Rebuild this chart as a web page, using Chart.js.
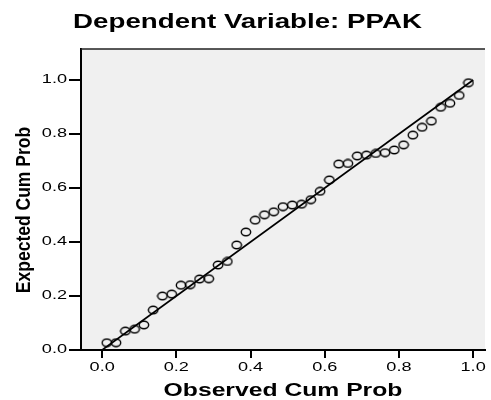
<!DOCTYPE html>
<html>
<head>
<meta charset="utf-8">
<script src="https://cdn.jsdelivr.net/npm/chart.js@4/dist/chart.umd.min.js"></script>
<style>
  html, body { margin: 0; padding: 0; background: #fff; }
  #wrap { width: 491px; height: 400px; }
</style>
</head>
<body>
<div id="wrap"><canvas id="chart_pp"></canvas></div>
<script>
var observed = [0.0125, 0.0375, 0.0625, 0.0875, 0.1125, 0.1375, 0.1625, 0.1875, 0.2125, 0.2375,
                0.2625, 0.2875, 0.3125, 0.3375, 0.3625, 0.3875, 0.4125, 0.4375, 0.4625, 0.4875,
                0.5125, 0.5375, 0.5625, 0.5875, 0.6125, 0.6375, 0.6625, 0.6875, 0.7125, 0.7375,
                0.7625, 0.7875, 0.8125, 0.8375, 0.8625, 0.8875, 0.9125, 0.9375, 0.9625, 0.9875];
var expected = [0.027, 0.027, 0.070, 0.077, 0.093, 0.148, 0.200, 0.207, 0.240, 0.242,
                0.263, 0.264, 0.315, 0.328, 0.389, 0.437, 0.481, 0.501, 0.512, 0.531,
                0.537, 0.540, 0.557, 0.588, 0.630, 0.689, 0.691, 0.719, 0.722, 0.728,
                0.731, 0.741, 0.760, 0.796, 0.825, 0.848, 0.899, 0.914, 0.943, 0.990];
var diag_line = [0, 1];
var tick_vals = [0.0, 0.2, 0.4, 0.6, 0.8, 1.0];
var tick_labels = ['0.0', '0.2', '0.4', '0.6', '0.8', '1.0'];

var title_text = 'Dependent Variable: PPAK';
var x_title = 'Observed Cum Prob';
var y_title = 'Expected Cum Prob';

var plot_bg = '#f0f0f0';
var ink = '#000000';
var fam = '"Liberation Sans", Arial, sans-serif';
var chart;

// open ellipse marker (the source image is a bit stretched sideways)
function make_marker() {
  var c = document.createElement('canvas');
  c.width = 12;
  c.height = 10;
  var g = c.getContext('2d');
  g.strokeStyle = ink;
  g.lineWidth = 1.4;
  g.beginPath();
  g.ellipse(6, 5, 4.7, 3.7, 0, 0, Math.PI * 2);
  g.stroke();
  return c;
}

// text drawn wider than the font, like the reference
function wide_text(ctx, txt, x, y, sx, align, base) {
  ctx.save();
  ctx.translate(x, y);
  ctx.scale(sx, 1);
  ctx.textAlign = align;
  ctx.textBaseline = base;
  ctx.fillText(txt, 0, 0);
  ctx.restore();
}

var frame_plugin = {
  id: 'frame',
  beforeDraw: function (ch) {
    var a = ch.chartArea;
    var ctx = ch.ctx;
    ctx.save();
    ctx.fillStyle = '#ffffff';
    ctx.fillRect(0, 0, ch.width, ch.height);
    ctx.fillStyle = plot_bg;
    ctx.fillRect(a.left, a.top, a.right - a.left, a.bottom - a.top);
    ctx.restore();
  },
  afterDraw: function (ch) {
    var a = ch.chartArea;
    var ctx = ch.ctx;
    var xs = ch.scales.x;
    var ys = ch.scales.y;
    ctx.save();
    ctx.strokeStyle = '#222';
    ctx.lineWidth = 1.5;
    ctx.beginPath();
    ctx.moveTo(a.left, a.top);
    ctx.lineTo(a.right, a.top);
    ctx.stroke();

    ctx.fillStyle = ink;
    ctx.font = '12.5px ' + fam;
    for (var i = 0; i < tick_vals.length; i++) {
      wide_text(ctx, tick_labels[i], xs.getPixelForValue(tick_vals[i]), a.bottom + 11, 1.45, 'center', 'top');
      wide_text(ctx, tick_labels[i], a.left - 14, ys.getPixelForValue(tick_vals[i]), 1.45, 'right', 'middle');
    }

    ctx.font = 'bold 19.5px ' + fam;
    wide_text(ctx, title_text, ch.width / 2 + 2, 28, 1.42, 'center', 'alphabetic');

    ctx.font = 'bold 19px ' + fam;
    wide_text(ctx, x_title, (a.left + a.right) / 2, 396, 1.3, 'center', 'alphabetic');

    ctx.font = 'bold 17.5px ' + fam;
    ctx.save();
    ctx.translate(24, 210);
    ctx.scale(1.15, 1);
    ctx.rotate(-Math.PI / 2);
    ctx.textAlign = 'center';
    ctx.textBaseline = 'middle';
    ctx.fillText(y_title, 0, 0);
    ctx.restore();

    ctx.restore();
  }
};

function make_chart() {
  var pts = [];
  for (var i = 0; i < observed.length; i++) {
    pts.push({x: observed[i], y: expected[i]});
  }
  var line_pts = diag_line.map(function (v) { return {x: v, y: v}; });

  var ctx = document.getElementById('chart_pp').getContext('2d');
  chart = new Chart(ctx, {
    type: 'scatter',
    data: {
      datasets: [{
        label: 'Fit',
        type: 'line',
        data: line_pts,
        borderColor: ink,
        borderWidth: 1.7,
        pointRadius: 0,
        fill: false
      }, {
        label: 'PPAK',
        data: pts,
        pointStyle: make_marker(),
        pointRadius: 5,
        borderColor: ink,
        backgroundColor: 'rgba(0,0,0,0)'
      }]
    },
    options: {
      responsive: true,
      maintainAspectRatio: false,
      animation: false,
      layout: {padding: {top: 49, left: 0, right: 0, bottom: 0}},
      plugins: {
        legend: {display: false},
        tooltip: {enabled: false},
        title: {display: false}
      },
      scales: {
        x: {
          type: 'linear',
          min: -0.057,
          max: 1.032,
          afterFit: function (s) { s.height = 50; },
          afterBuildTicks: function (s) {
            s.ticks = tick_vals.map(function (v) { return {value: v}; });
          },
          ticks: {display: false},
          grid: {display: true, drawOnChartArea: false, drawTicks: true, tickLength: 8, color: ink, lineWidth: 2},
          border: {display: true, color: ink, width: 2},
          title: {display: false}
        },
        y: {
          type: 'linear',
          min: 0,
          max: 1.115,
          afterFit: function (s) { s.width = 81; },
          afterBuildTicks: function (s) {
            s.ticks = tick_vals.map(function (v) { return {value: v}; });
          },
          ticks: {display: false},
          grid: {display: true, drawOnChartArea: false, drawTicks: true, tickLength: 12, color: ink, lineWidth: 2},
          border: {display: true, color: ink, width: 2},
          title: {display: false}
        }
      }
    },
    plugins: [frame_plugin]
  });
}

make_chart();
</script>
</body>
</html>
